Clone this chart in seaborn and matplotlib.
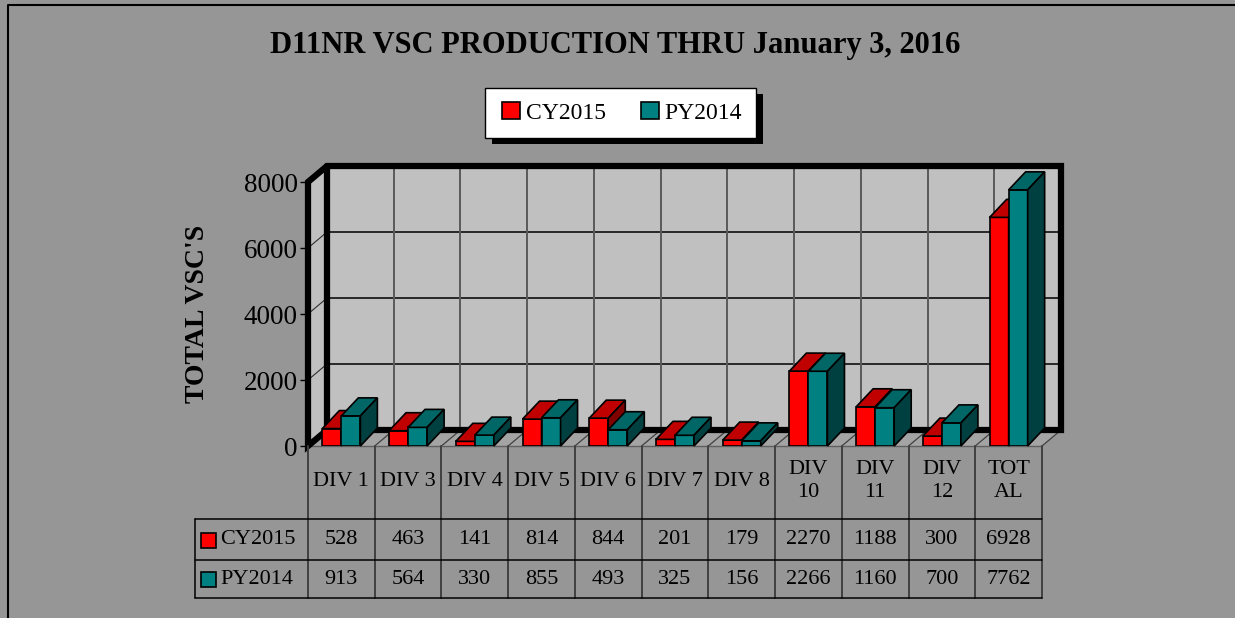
import numpy as np
import pandas as pd
import seaborn as sns
import matplotlib.pyplot as plt
from matplotlib.patches import Polygon, Rectangle
from matplotlib.lines import Line2D
from matplotlib.colors import to_hex
from matplotlib.transforms import blended_transform_factory

# data
divisions = ['DIV 1', 'DIV 3', 'DIV 4', 'DIV 5', 'DIV 6', 'DIV 7', 'DIV 8',
             'DIV 10', 'DIV 11', 'DIV 12', 'TOTAL']
header_labels = ['DIV 1', 'DIV 3', 'DIV 4', 'DIV 5', 'DIV 6', 'DIV 7', 'DIV 8',
                 'DIV\n10', 'DIV\n11', 'DIV\n12', 'TOT\nAL']
cy2015 = [528, 463, 141, 814, 844, 201, 179, 2270, 1188, 300, 6928]
py2014 = [913, 564, 330, 855, 493, 325, 156, 2266, 1160, 700, 7762]
series = ['CY2015', 'PY2014']
yticks = [0, 2000, 4000, 6000, 8000]

front = {'CY2015': '#ff0000', 'PY2014': '#008080'}
top_c = {'CY2015': '#c00000', 'PY2014': '#006666'}
side_c = {'CY2015': '#800000', 'PY2014': '#004040'}

df = pd.DataFrame({
    'division': divisions * 2,
    'series': [series[0]] * len(divisions) + [series[1]] * len(divisions),
    'value': cy2015 + py2014,
})

sns.set_style('white')
plt.rcParams['font.family'] = ['Liberation Serif', 'DejaVu Serif']
plt.rcParams['text.color'] = 'black'
plt.rcParams['axes.labelcolor'] = 'black'
plt.rcParams['ytick.color'] = 'black'

W, H = 1235, 618
BG = '#969696'
fig = plt.figure(figsize=(W / 100, H / 100), dpi=100, facecolor=BG, edgecolor=BG, linewidth=0)

# front plane of the pseudo-3d box, in pixels
L, R, T, B = 308, 1042, 182, 446
ax = fig.add_axes([L / W, 1 - B / H, (R - L) / W, (B - T) / H])
ax.set_facecolor('none')

sns.barplot(data=df, x='division', y='value', hue='series', palette=front,
            width=0.57, saturation=1, edgecolor='black', linewidth=1.2, ax=ax)
ax.set_xlim(-0.5, 10.5)
ax.set_ylim(0, 8000)

ux = (R - L) / 11
uy = (B - T) / 8000
wdx, wdy = 19 / ux, 16 / uy   # wall depth
bdx, bdy = 17 / ux, 18 / uy   # bar depth
x0, x1 = -0.5, 10.5

# walls and floor
ax.add_patch(Rectangle((x0 + wdx, wdy), 11, 8000, fc='#c0c0c0', ec='none', zorder=0.1, clip_on=False))
ax.add_patch(Polygon([(x0, 0), (x0 + wdx, wdy), (x0 + wdx, 8000 + wdy), (x0, 8000)],
                     fc='#c0c0c0', ec='none', zorder=0.1, clip_on=False))
ax.add_patch(Polygon([(x0, 0), (x1, 0), (x1 + wdx, wdy), (x0 + wdx, wdy)],
                     fc='#a4a4a4', ec='none', zorder=0.1, clip_on=False))
for v in yticks[1:-1]:
    ax.plot([x0 + wdx, x1 + wdx], [v + wdy, v + wdy], color='black', lw=1.1, zorder=0.2, clip_on=False)
    ax.plot([x0, x0 + wdx], [v, v + wdy], color='#303030', lw=0.8, zorder=0.2, clip_on=False)
for k in range(1, 11):
    b = k - 0.5
    ax.plot([b + wdx, b + wdx], [wdy, 8000 + wdy], color='#5a5a5a', lw=1.4, zorder=0.2, clip_on=False)
for k in range(0, 12):
    b = k - 0.5
    ax.plot([b, b + wdx], [0, wdy], color='#404040', lw=0.9, zorder=0.2, clip_on=False)
ax.plot([x0, x1], [0, 0], color='#606060', lw=1, zorder=0.2, clip_on=False)

# thick frame
ax.plot([x0 + wdx, x0 + wdx, x1 + wdx, x1 + wdx, x0 + wdx],
        [8000 + wdy, wdy, wdy, 8000 + wdy, 8000 + wdy],
        color='black', lw=4.5, zorder=0.3, clip_on=False, solid_joinstyle='miter')
ax.plot([x0 + wdx, x0, x0, x0 + wdx],
        [wdy, 0, 8000, 8000 + wdy],
        color='black', lw=4.5, zorder=0.3, clip_on=False, solid_joinstyle='miter')

# 3d faces for the bars
for p in list(ax.patches):
    fc = to_hex(p.get_facecolor())
    name = [s for s in series if front[s] == fc]
    if not name or p.get_height() <= 0:
        continue
    name = name[0]
    z = 3 if name == series[0] else 4
    xa, w, h = p.get_x(), p.get_width(), p.get_height()
    p.set_zorder(z)
    ax.add_patch(Polygon([(xa, h), (xa + w, h), (xa + w + bdx, h + bdy), (xa + bdx, h + bdy)],
                         fc=top_c[name], ec='black', lw=1.2, zorder=z, clip_on=False))
    ax.add_patch(Polygon([(xa + w, 0), (xa + w + bdx, bdy), (xa + w + bdx, h + bdy), (xa + w, h)],
                         fc=side_c[name], ec='black', lw=1.2, zorder=z, clip_on=False))

# axes cosmetics
for s in ax.spines.values():
    s.set_visible(False)
ax.set_yticks(yticks)
ax.set_yticklabels([str(v) for v in yticks])
ax.tick_params(axis='y', left=True, length=6, width=1, pad=1.5, labelsize=19.5,
               colors='black', labelcolor='black')
ax.tick_params(axis='x', bottom=False, labelbottom=False)
ax.set_xlabel('')
ax.set_ylabel('')

# legend
handles = ax.get_legend().legend_handles
ax.get_legend().remove()
fig.add_artist(Rectangle(((485 + 7) / W, 1 - (138 + 6) / H), 271 / W, 50 / H,
                         transform=fig.transFigure, fc='black', ec='none'))
fig.add_artist(Rectangle((485 / W, 1 - 138 / H), 271 / W, 50 / H,
                         transform=fig.transFigure, fc='white', ec='black', lw=1))
for hd in handles:
    hd.set_edgecolor('black')
    hd.set_linewidth(1.2)
fig.legend(handles, series, ncol=2, frameon=False, loc='center',
           bbox_to_anchor=(622 / W, 1 - 113 / H), fontsize=17, labelcolor='black',
           handlelength=0.75, handleheight=0.75, handletextpad=0.25,
           columnspacing=1.5)

# titles
fig.text(615 / W, 1 - 45 / H, 'D11NR VSC PRODUCTION THRU January 3, 2016',
         ha='center', va='center', fontsize=22, fontweight='bold', color='black')
fig.text(197 / W, 1 - 314 / H, "TOTAL VSC'S", rotation=90,
         ha='center', va='center', fontsize=20, fontweight='bold', color='black')

# data table
trans = blended_transform_factory(ax.transData, fig.transFigure)
fy = lambda py: 1 - py / H
tl = x0 + (195 - L) / ux
for k in range(12):
    b = k - 0.5
    ax.plot([b, b], [fy(446), fy(598)], color='#404040', lw=1.4, transform=trans, clip_on=False)
for py in (519, 560, 598):
    ax.plot([tl, x1], [fy(py), fy(py)], color='black', lw=1.1, transform=trans, clip_on=False)
ax.plot([tl, tl], [fy(519), fy(598)], color='black', lw=1.1, transform=trans, clip_on=False)

for i, lab in enumerate(header_labels):
    ax.text(i, fy(481), lab, transform=trans, ha='center', va='center',
            fontsize=16, linespacing=1.35, color='black')
for i, (a, b) in enumerate(zip(cy2015, py2014)):
    ax.text(i, fy(540), str(a), transform=trans, ha='center', va='center', fontsize=16, color='black')
    ax.text(i, fy(579), str(b), transform=trans, ha='center', va='center', fontsize=16, color='black')
for name, py in zip(series, (540, 579)):
    fig.add_artist(Rectangle((201 / W, fy(py + 8)), 15 / W, 15 / H, transform=fig.transFigure,
                             fc=front[name], ec='black', lw=1.2))
    fig.text(220 / W, fy(py), name, ha='left', va='center', fontsize=16, color='black')

# outer border (left and top only)
fig.add_artist(Line2D([8 / W, 8 / W, 1], [0, fy(5), fy(5)], transform=fig.transFigure,
                      color='black', lw=1.5))

fig.savefig('out.png', dpi=100, facecolor=BG, edgecolor=BG)
